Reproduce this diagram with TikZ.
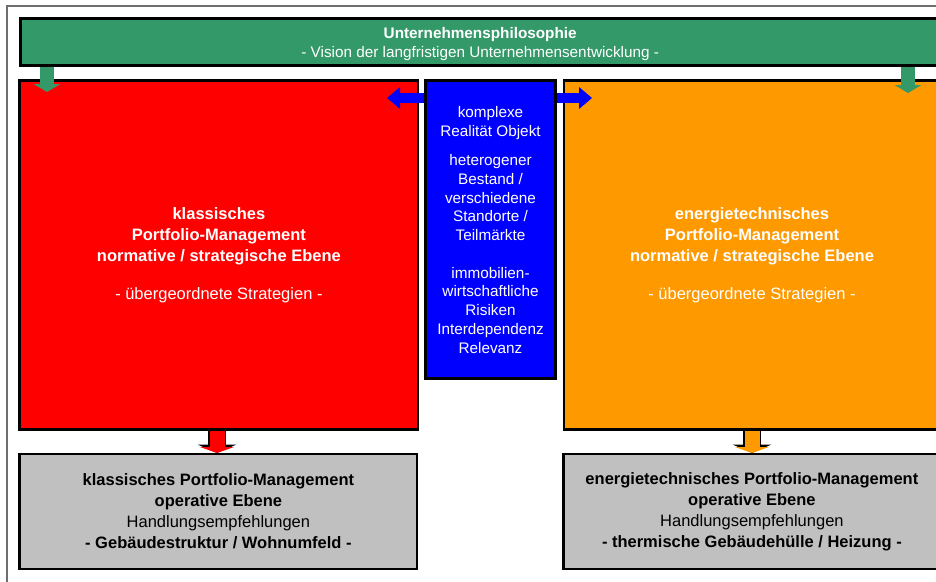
\documentclass[tikz,border=0pt]{standalone}
\usepackage{fontspec}
\setmainfont{Liberation Sans}
\usepackage{tikz}
\usetikzlibrary{arrows.meta}

\definecolor{philgruen}{RGB}{52,153,104}
\definecolor{pmorange}{RGB}{255,153,0}
\definecolor{pmgrau}{RGB}{192,192,192}
\definecolor{rahmengrau}{RGB}{110,110,110}

\begin{document}
\begin{tikzpicture}[x=1pt, y=-1pt,
        every node/.append style={inner sep=0pt, align=center},
        kasten/.style={draw=black, line width=2.6pt},
        gpfeil/.style={philgruen, line width=14pt, -{Triangle[width=27pt, length=8pt, line width=0pt]}},
        bpfeil/.style={blue, line width=10pt, -{Triangle[width=22pt, length=13pt, line width=0pt]}},
        rahmenpfeil/.style={#1, line width=15pt, -{Triangle[width=34pt, length=6pt, line width=0pt]},
            preaction={draw=black, line width=18.5pt, -{Triangle[width=39pt, length=8.5pt, line width=0pt]}}}]
        \useasboundingbox (0,0) rectangle (936,581);
        \draw [rahmengrau, line width=1.5pt] (960,6) -- (7,6) -- (7,600);

        \node [kasten, fill=philgruen, text=white, minimum width=919.7pt, minimum height=46.8pt,
            font=\fontsize{15.3}{19}\selectfont] (phil) at (480.2,41.9)
            {\rule{0pt}{16pt}\textbf{Unternehmensphilosophie}\\- Vision der langfristigen Unternehmensentwicklung -};
        \node [kasten, fill=red, text=white, minimum width=398.3pt, minimum height=349.2pt,
            font=\fontsize{16.5}{21}\selectfont] (klass) at (218.9,254.9)
            {\textbf{klassisches}\\\textbf{Portfolio-Management}\\\textbf{normative / strategische Ebene}\\[17pt]- übergeordnete Strategien -};
        \node [kasten, fill=blue, text=white, minimum width=130.4pt, minimum height=298pt,
            font=\fontsize{15.3}{18.7}\selectfont] (objekt) at (490.5,229.7)
            {komplexe\\Realität Objekt\\[11pt]heterogener\\Bestand /\\verschiedene\\Standorte /\\Teilmärkte\\[19pt]immobilien-\\wirtschaftliche\\Risiken\\Interdependenz\\Relevanz};
        \node [kasten, fill=pmorange, text=white, minimum width=376pt, minimum height=349.2pt,
            font=\fontsize{16.5}{21}\selectfont] (energ) at (752,254.9)
            {\textbf{energietechnisches}\\\textbf{Portfolio-Management}\\\textbf{normative / strategische Ebene}\\[17pt]- übergeordnete Strategien -};
        \node [kasten, fill=pmgrau, minimum width=397.3pt, minimum height=114.8pt,
            font=\fontsize{16.5}{21}\selectfont] (klassop) at (218.4,511.4)
            {\textbf{klassisches Portfolio-Management}\\\textbf{operative Ebene}\\Handlungsempfehlungen\\\textbf{- Gebäudestruktur / Wohnumfeld -}};
        \node [kasten, fill=pmgrau, minimum width=376.3pt, minimum height=114.8pt,
            font=\fontsize{16.5}{21}\selectfont] (energop) at (751.9,511.4)
            {\textbf{energietechnisches Portfolio-Management}\\\textbf{operative Ebene}\\Handlungsempfehlungen\\\textbf{- thermische Gebäudehülle / Heizung -}};

        % Pfeilspitzen
        \coordinate (gL) at (47,92);
        \coordinate (gR) at (908,93);
        \coordinate (bL) at (387,98);
        \coordinate (bR) at (592,98);
        \coordinate (rS) at (217,453);
        \coordinate (oS) at (752,453);

        \draw [gpfeil] (phil.south -| gL) -- (gL);
        \draw [gpfeil] (phil.south -| gR) -- (gR);
        \draw [bpfeil] (objekt.west |- bL) -- (bL);
        \draw [bpfeil] (objekt.east |- bR) -- (bR);
        \draw [rahmenpfeil=red] (klass.south -| rS) -- (rS);
        \draw [rahmenpfeil=pmorange] (energ.south -| oS) -- (oS);
    \end{tikzpicture}
\end{document}
